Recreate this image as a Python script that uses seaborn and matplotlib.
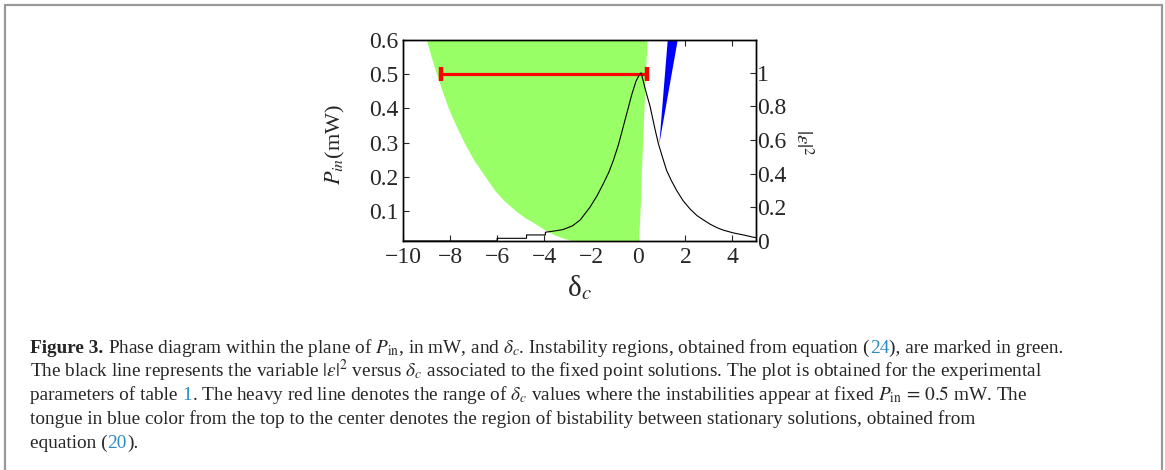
import matplotlib
matplotlib.use("Agg")
import matplotlib.pyplot as plt
import seaborn as sns
from matplotlib.lines import Line2D

# ---------------- data ----------------
delta_curve = [-10.0, -6.0, -6.0, -4.75, -4.75, -3.95, -3.95, -3.45, -3.2, -2.8, -2.47,
               -2.06, -1.75, -1.49, -1.25, -1.06, -0.85, -0.64, -0.45, -0.28, -0.1, 0.05,
               0.12, 0.3, 0.5, 0.7, 0.85, 1.0, 1.2, 1.4, 1.63, 1.9, 2.2, 2.5, 2.77, 3.05,
               3.33, 3.6, 4.04, 4.5, 4.9, 5.0]
eps2_curve = [0.0, 0.0, 0.016, 0.016, 0.036, 0.036, 0.052, 0.062, 0.068, 0.09, 0.125,
              0.2, 0.27, 0.34, 0.41, 0.48, 0.57, 0.68, 0.78, 0.87, 0.95, 0.99,
              1.0, 0.9, 0.80, 0.67, 0.58, 0.51, 0.42, 0.36, 0.30, 0.24, 0.19, 0.15, 0.125, 0.10,
              0.08, 0.065, 0.048, 0.035, 0.022, 0.02]

green_P = [0.0, 0.013, 0.02, 0.03, 0.044, 0.064, 0.08, 0.1, 0.13, 0.16, 0.2, 0.25,
           0.3, 0.35, 0.4, 0.45, 0.5, 0.55, 0.6, 0.62]
green_left = [-2.8, -2.8, -3.15, -3.55, -3.95, -4.4, -4.8, -5.2, -5.7, -6.1, -6.5, -7.0,
              -7.4, -7.75, -8.07, -8.33, -8.57, -8.8, -9.0, -9.05]
green_right = [0.0, 0.0, 0.005, 0.01, 0.03, 0.05, 0.06, 0.07, 0.09, 0.1, 0.12, 0.15,
               0.18, 0.21, 0.24, 0.27, 0.3, 0.335, 0.37, 0.38]

blue_P = [0.298, 0.62]
blue_left = [0.87, 1.25]
blue_right = [0.87, 1.70]

red_delta = [-8.4, 0.35]
red_P = [0.5, 0.5]

xticks = [-10, -8, -6, -4, -2, 0, 2, 4]
left_yticks = [0.1, 0.2, 0.3, 0.4, 0.5, 0.6]
left_yticklabels = ["0.1", "0.2", "0.3", "0.4", "0.5", "0.6"]
right_yticks = [0, 0.2, 0.4, 0.6, 0.8, 1.0]
right_yticklabels = ["0", "0.2", "0.4", "0.6", "0.8", "1"]

# ---------------- style ----------------
sns.set_style("ticks")
plt.rcParams["font.family"] = ["Liberation Serif", "DejaVu Serif"]
plt.rcParams["mathtext.fontset"] = "stix"
plt.rcParams["xtick.direction"] = "in"
plt.rcParams["ytick.direction"] = "in"

DPI = 100
fig = plt.figure(figsize=(11.65, 4.70), dpi=DPI)
W, H = 1165, 470

def ax_rect(l, t, r, b):
    return [l / W, 1 - b / H, (r - l) / W, (b - t) / H]

ax = fig.add_axes(ax_rect(403, 40, 756, 241))
ax2 = ax.twinx()

GREEN = "#99ff66"
ax.fill_betweenx(green_P, green_left, green_right, color=GREEN, lw=0, zorder=1)
ax.fill_betweenx(blue_P, blue_left, blue_right, color="#0000ff", lw=0, zorder=2)
ax.plot(red_delta, red_P, color="#ff0000", lw=2.3, solid_capstyle="butt", zorder=4)
ax.plot(red_delta, red_P, ls="none", marker="|", ms=9.5, mew=3.2, color="#ff0000", zorder=4)

sns.lineplot(x=delta_curve, y=eps2_curve, ax=ax2, color="black", lw=0.8,
             estimator=None, sort=False)

ax.set_xlim(-10, 5)
ax.set_ylim(0.0125, 0.6)
ax2.set_ylim(0, 1.195)

TICK_FS = 17
ax.set_xticks(xticks)
ax.set_xticklabels(["\u2212" + str(-v) if v < 0 else str(v) for v in xticks], fontsize=TICK_FS)
ax.set_yticks(left_yticks)
ax.set_yticklabels(left_yticklabels, fontsize=TICK_FS)
ax2.set_yticks(right_yticks)
ax2.set_yticklabels(right_yticklabels, fontsize=TICK_FS)

ax.tick_params(axis="x", top=True, bottom=True, length=4, width=0.8, pad=4)
ax.tick_params(axis="y", left=True, right=False, length=4, width=0.8, pad=3)
ax2.tick_params(axis="y", right=True, length=4, width=0.8, pad=1)
for a in (ax, ax2):
    for s in a.spines.values():
        s.set_linewidth(1.0)
        s.set_color("black")

ax.set_ylabel("$P_{in}$(mW)", fontsize=16)
ax.yaxis.set_label_coords(-0.16, 0.48)
ax.set_xlabel("δ$_c$", fontsize=21)
ax.xaxis.set_label_coords(0.50, -0.16)
ax2.set_ylabel(r"$|\varepsilon|^2$", fontsize=15, rotation=-90, va="center")
ax2.yaxis.set_label_coords(1.13, 0.49)

# ---------------- page frame ----------------
FRAME = "#999999"
fig.add_artist(Line2D([5 / W, 5 / W], [0, 1 - 5 / H], color=FRAME, lw=1.6, transform=fig.transFigure))
fig.add_artist(Line2D([1162 / W, 1162 / W], [0, 1 - 5 / H], color=FRAME, lw=1.6, transform=fig.transFigure))
fig.add_artist(Line2D([5 / W, 1162 / W], [1 - 5 / H, 1 - 5 / H], color=FRAME, lw=1.6, transform=fig.transFigure))

# ---------------- caption ----------------
LINK = "#2b8cc4"
caption = [
    [("Figure 3.", "b", 0),
     ("Phase diagram within the plane of $P_{\\rm in}$, in mW, and $\\delta_c$. Instability regions, obtained from equation (", "n", 1),
     ("24", "l", 0), ("), are marked in green.", "n", 0)],
    [("The black line represents the variable $|\\epsilon|^2$ versus $\\delta_c$ associated to the fixed point solutions. The plot is obtained for the experimental", "n", 0)],
    [("parameters of table", "n", 0), ("1", "l", 1),
     (". The heavy red line denotes the range of $\\delta_c$ values where the instabilities appear at fixed $P_{\\rm in}\\,=\\,0.5$ mW. The", "n", 0)],
    [("tongue in blue color from the top to the center denotes the region of bistability between stationary solutions, obtained from", "n", 0)],
    [("equation (", "n", 0), ("20", "l", 0), (").", "n", 0)],
]
baselines = [353, 376.7, 400.4, 424.1, 447.8]
x0 = 30
target_w1 = 1033

renderer = fig.canvas.get_renderer()

def style_kw(kind, fs):
    kw = dict(fontsize=fs, va="baseline", ha="left")
    if kind == "b":
        kw["fontweight"] = "bold"
    if kind == "l":
        kw["color"] = LINK
    return kw

def width(s, kind, fs):
    t = fig.text(0, 0.5, s, **style_kw(kind, fs))
    w = t.get_window_extent(renderer).width
    t.remove()
    return w

def line_width(line, fs):
    sp = width("a a", "n", fs) - width("aa", "n", fs)
    return sum(width(s, k, fs) + g * sp for s, k, g in line)

fs0 = 13.0
fs = fs0 * target_w1 / line_width(caption[0], fs0)
space = width("a a", "n", fs) - width("aa", "n", fs)

for line, yb in zip(caption, baselines):
    x = x0
    for s, k, g in line:
        x += g * space
        fig.text(x / W, 1 - yb / H, s, **style_kw(k, fs))
        x += width(s, k, fs)

fig.savefig("out.png", dpi=DPI)
